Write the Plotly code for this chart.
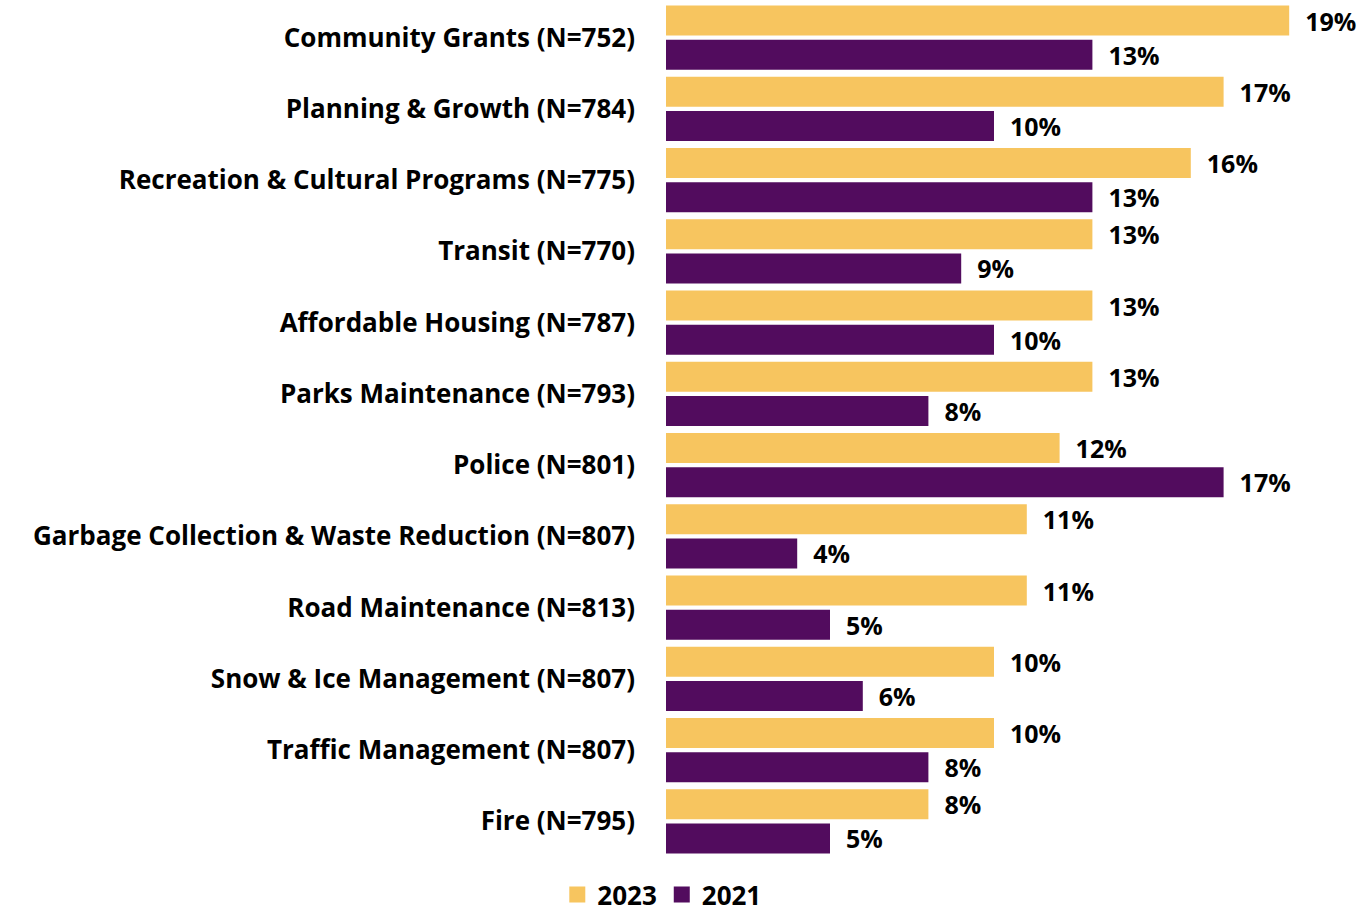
import plotly.graph_objects as go

categories = [
    "Community Grants (N=752)",
    "Planning & Growth (N=784)",
    "Recreation & Cultural Programs (N=775)",
    "Transit (N=770)",
    "Affordable Housing (N=787)",
    "Parks Maintenance (N=793)",
    "Police (N=801)",
    "Garbage Collection & Waste Reduction (N=807)",
    "Road Maintenance (N=813)",
    "Snow & Ice Management (N=807)",
    "Traffic Management (N=807)",
    "Fire (N=795)",
]
values_2023 = [19, 17, 16, 13, 13, 13, 12, 11, 11, 10, 10, 8]
values_2021 = [13, 10, 13, 9, 10, 8, 17, 4, 5, 6, 8, 5]

YELLOW = "#F7C55F"
PURPLE = "#520C5E"
FONT = "Open Sans, Calibri, sans-serif"

fig = go.Figure()

for name, vals, color in [("2023", values_2023, YELLOW), ("2021", values_2021, PURPLE)]:
    fig.add_trace(go.Bar(
        y=categories,
        x=vals,
        name=name,
        orientation="h",
        marker=dict(color=color, line=dict(width=0)),
        text=[f"\u00a0\u00a0{v}%" for v in vals],
        textposition="outside",
        constraintext="none",
        textfont=dict(family=FONT, size=25, color="black", weight="bold"),
        cliponaxis=False,
        showlegend=False,
        hoverinfo="x+y",
    ))
    # legend entry with a bigger square swatch
    fig.add_trace(go.Scatter(
        x=[None], y=[None], mode="markers", name=name,
        marker=dict(symbol="square", size=17, color=color),
    ))

fig.update_layout(
    width=1366,
    height=912,
    barmode="group",
    bargap=0.042,
    bargroupgap=0.1176,
    plot_bgcolor="white",
    paper_bgcolor="white",
    margin=dict(l=666, r=0, t=2, b=55, autoexpand=False),
    font=dict(family=FONT, size=26, color="black"),
    legend=dict(
        orientation="h",
        x=-0.006,
        xanchor="center",
        y=-0.044,
        yanchor="middle",
        font=dict(family=FONT, size=26, color="black", weight="bold"),
        itemwidth=30,
        tracegroupgap=0,
    ),
)

fig.update_xaxes(range=[0, 700 / 32.8], visible=False, showgrid=False)
fig.update_yaxes(
    autorange="reversed",
    showgrid=False,
    showline=False,
    ticks="",
    ticklabelstandoff=30,
    automargin=False,
    tickfont=dict(family=FONT, size=26, color="black", weight="bold"),
)

# page body has a default 8px margin; remove it so the figure fills the window
fig.write_html(
    "out.html",
    config={"displayModeBar": False},
    post_script="document.body.style.margin='0';",
)
